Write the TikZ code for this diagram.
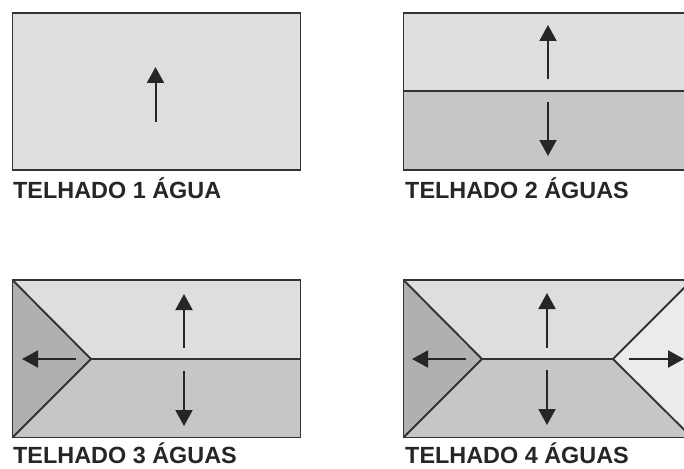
\documentclass[tikz,border=0pt]{standalone}
\usepackage{fontspec}
\setmainfont{Liberation Sans}
\usetikzlibrary{arrows.meta,positioning,calc}
\usepackage{xcolor}
\definecolor{roofline}{HTML}{333333}
\definecolor{roofink}{HTML}{262626}
\definecolor{slopeA}{HTML}{DEDEDE}
\definecolor{slopeB}{HTML}{C6C6C6}
\definecolor{slopeC}{HTML}{B0B0B0}
\definecolor{slopeD}{HTML}{EBEBEB}
\tikzset{
    edgeline/.style={line width=1.9pt, draw=roofline, line join=miter},
    flowarrow/.style={line width=2pt, draw=roofink, -{Triangle[length=16pt,width=17pt]}},
    caption/.style={anchor=base west, inner sep=0pt, font=\bfseries\fontsize{23.4pt}{26pt}\selectfont, text=roofink}
}

\begin{document}
\begin{tikzpicture}[x=1pt, y=-1pt]
    \useasboundingbox (0, 0) rectangle (684, 468);

    % Telhado 1 agua
    \coordinate (a1s) at (155.5, 122);
    \coordinate (a1e) at (155.5, 67);
    \filldraw[edgeline, fill=slopeA] (12.5, 13) rectangle (300.5, 170);
    \draw[flowarrow] (a1s) -- (a1e);
    \node[caption] (cap1) at (13, 198.5) {TELHADO 1 ÁGUA};

    % Telhado 2 aguas
    \coordinate (b1s) at (548, 79);
    \coordinate (b1e) at (548, 25);
    \coordinate (b2s) at (548, 102);
    \coordinate (b2e) at (548, 156);
    \fill[slopeA] (403.5, 13) rectangle (690, 91);
    \fill[slopeB] (403.5, 91) rectangle (690, 170);
    \draw[edgeline] (403.5, 91) -- (690, 91);
    \draw[edgeline] (403.5, 13) rectangle (690, 170);
    \draw[flowarrow] (b1s) -- (b1e);
    \draw[flowarrow] (b2s) -- (b2e);
    \node[caption] (cap2) at (405, 198.5) {TELHADO 2 ÁGUAS};

    % Telhado 3 aguas
    \coordinate (c1s) at (184, 348);
    \coordinate (c1e) at (184, 294);
    \coordinate (c2s) at (184, 371);
    \coordinate (c2e) at (184, 426);
    \coordinate (c3s) at (76, 359);
    \coordinate (c3e) at (22, 359);
    \fill[slopeA] (12.5, 280) -- (300.5, 280) -- (300.5, 359) -- (91, 359) -- cycle;
    \fill[slopeB] (12.5, 437.5) -- (300.5, 437.5) -- (300.5, 359) -- (91, 359) -- cycle;
    \fill[slopeC] (12.5, 280) -- (91, 359) -- (12.5, 437.5) -- cycle;
    \draw[edgeline] (12.5, 280) -- (91, 359) -- (12.5, 437.5);
    \draw[edgeline] (91, 359) -- (300.5, 359);
    \draw[edgeline] (12.5, 280) rectangle (300.5, 437.5);
    \draw[flowarrow] (c1s) -- (c1e);
    \draw[flowarrow] (c2s) -- (c2e);
    \draw[flowarrow] (c3s) -- (c3e);
    \node[caption] (cap3) at (13, 463) {TELHADO 3 ÁGUAS};

    % Telhado 4 aguas
    \coordinate (d1s) at (547, 348);
    \coordinate (d1e) at (547, 293);
    \coordinate (d2s) at (547, 370);
    \coordinate (d2e) at (547, 425);
    \coordinate (d3s) at (466, 359);
    \coordinate (d3e) at (412, 359);
    \coordinate (d4s) at (629, 359);
    \coordinate (d4e) at (684, 359);
    \fill[slopeA] (403.5, 280) -- (692, 280) -- (613, 359) -- (482, 359) -- cycle;
    \fill[slopeB] (403.5, 437.5) -- (692, 437.5) -- (613, 359) -- (482, 359) -- cycle;
    \fill[slopeC] (403.5, 280) -- (482, 359) -- (403.5, 437.5) -- cycle;
    \fill[slopeD] (692, 280) -- (613, 359) -- (692, 437.5) -- cycle;
    \draw[edgeline] (403.5, 280) -- (482, 359) -- (403.5, 437.5);
    \draw[edgeline] (692, 280) -- (613, 359) -- (692, 437.5);
    \draw[edgeline] (482, 359) -- (613, 359);
    \draw[edgeline] (403.5, 280) rectangle (692, 437.5);
    \draw[flowarrow] (d1s) -- (d1e);
    \draw[flowarrow] (d2s) -- (d2e);
    \draw[flowarrow] (d3s) -- (d3e);
    \draw[flowarrow] (d4s) -- (d4e);
    \node[caption] (cap4) at (405, 463) {TELHADO 4 ÁGUAS};
\end{tikzpicture}
\end{document}
